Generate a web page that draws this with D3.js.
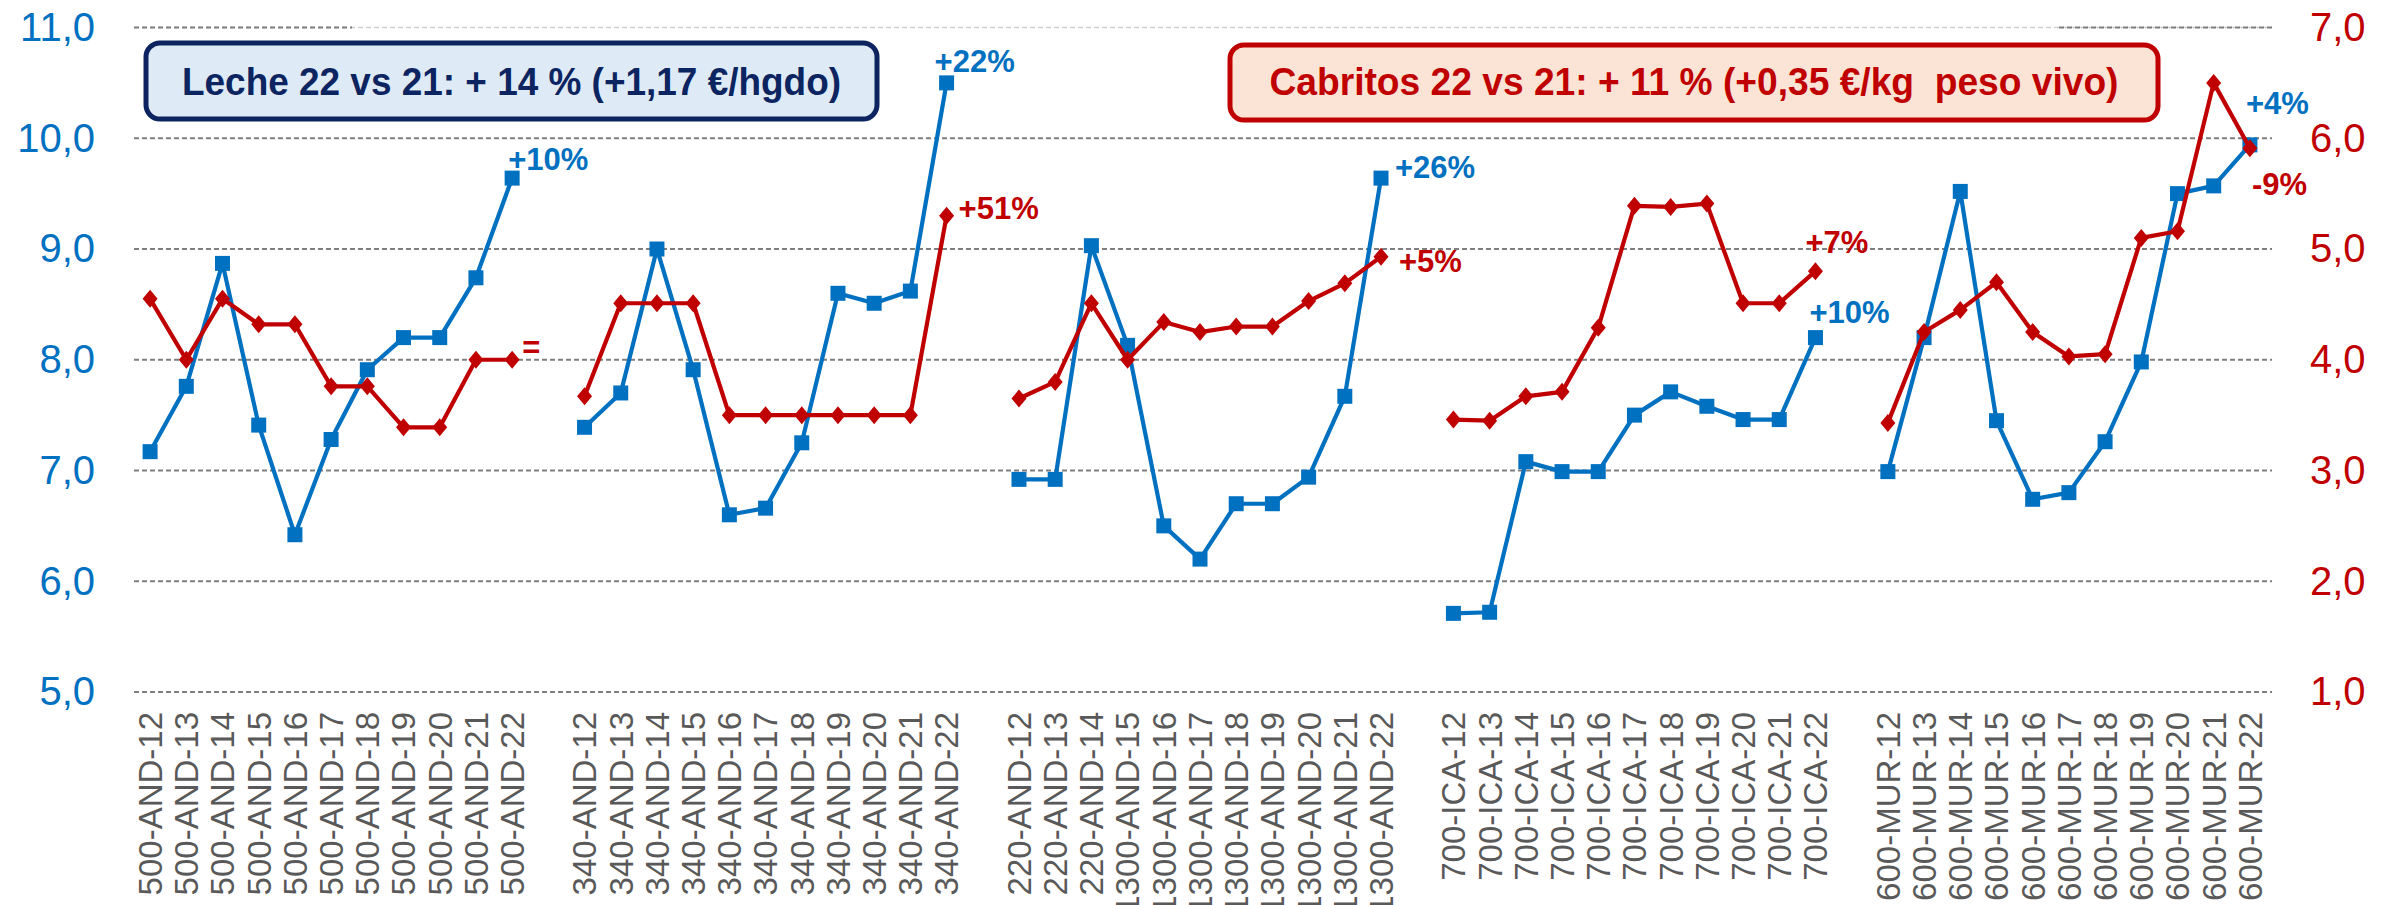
<!DOCTYPE html>
<html lang="es">
<head>
<meta charset="UTF-8">
<title>Leche y cabritos 2012-2022</title>
<script src="https://d3js.org/d3.v7.min.js"></script>
<style>
  body { margin: 0; background: #fff; }
  svg { display: block; font-family: "Liberation Sans", Arial, sans-serif; }
  .grid line { stroke: #7f7f7f; stroke-width: 2; stroke-dasharray: 5,3; }
  .grid line.top { stroke: #cfcfcf; stroke-width: 1.5; }
  .axis-left text { fill: #0070c0; font-size: 40px; }
  .axis-right text { fill: #c00000; font-size: 40px; }
  .axis-x text { fill: #595959; font-size: 33px; }
  .note { font-weight: bold; font-size: 31px; }
</style>
</head>
<body>
<svg id="chart"></svg>
<script>
// precio medio leche (€/hgdo, eje izq.) y cabritos (€/kg peso vivo, eje dcho.)
const categories = [
  "500-AND-12", "500-AND-13", "500-AND-14", "500-AND-15", "500-AND-16", "500-AND-17", "500-AND-18", "500-AND-19", "500-AND-20", "500-AND-21", "500-AND-22",
  "340-AND-12", "340-AND-13", "340-AND-14", "340-AND-15", "340-AND-16", "340-AND-17", "340-AND-18", "340-AND-19", "340-AND-20", "340-AND-21", "340-AND-22",
  "220-AND-12", "220-AND-13", "220-AND-14", "1300-AND-15", "1300-AND-16", "1300-AND-17", "1300-AND-18", "1300-AND-19", "1300-AND-20", "1300-AND-21", "1300-AND-22",
  "700-ICA-12", "700-ICA-13", "700-ICA-14", "700-ICA-15", "700-ICA-16", "700-ICA-17", "700-ICA-18", "700-ICA-19", "700-ICA-20", "700-ICA-21", "700-ICA-22",
  "600-MUR-12", "600-MUR-13", "600-MUR-14", "600-MUR-15", "600-MUR-16", "600-MUR-17", "600-MUR-18", "600-MUR-19", "600-MUR-20", "600-MUR-21", "600-MUR-22"
];
const groupSize = 11;

const leche = [
  7.17, 7.76, 8.87, 7.41, 6.42, 7.28, 7.91, 8.20, 8.20, 8.74, 9.64,
  7.39, 7.70, 9.00, 7.91, 6.60, 6.66, 7.25, 8.60, 8.51, 8.62, 10.50,
  6.92, 6.92, 9.03, 8.13, 6.50, 6.20, 6.70, 6.70, 6.94, 7.67, 9.64,
  5.71, 5.72, 7.08, 6.99, 6.99, 7.50, 7.71, 7.58, 7.46, 7.46, 8.20,
  6.99, 8.20, 9.52, 7.45, 6.74, 6.80, 7.26, 7.98, 9.50, 9.57, 9.94
];
const cabritos = [
  4.55, 4.00, 4.55, 4.32, 4.32, 3.76, 3.76, 3.39, 3.39, 4.00, 4.00,
  3.67, 4.51, 4.51, 4.51, 3.50, 3.50, 3.50, 3.50, 3.50, 3.50, 5.30,
  3.65, 3.80, 4.51, 4.00, 4.34, 4.25, 4.30, 4.30, 4.53, 4.69, 4.93,
  3.46, 3.45, 3.67, 3.71, 4.29, 5.39, 5.38, 5.41, 4.51, 4.51, 4.80,
  3.43, 4.25, 4.45, 4.70, 4.25, 4.03, 4.05, 5.10, 5.16, 6.50, 5.91
];

const leftTicks = [5, 6, 7, 8, 9, 10, 11];
const rightTicks = [1, 2, 3, 4, 5, 6, 7];

const changeLabels = [
  { cat: "500-AND-22", series: "leche", text: "+10%" },
  { cat: "500-AND-22", series: "cabritos", text: "=" },
  { cat: "340-AND-22", series: "leche", text: "+22%" },
  { cat: "340-AND-22", series: "cabritos", text: "+51%" },
  { cat: "1300-AND-22", series: "leche", text: "+26%" },
  { cat: "1300-AND-22", series: "cabritos", text: "+5%" },
  { cat: "700-ICA-22", series: "cabritos", text: "+7%" },
  { cat: "700-ICA-22", series: "leche", text: "+10%" },
  { cat: "600-MUR-22", series: "leche", text: "+4%" },
  { cat: "600-MUR-22", series: "cabritos", text: "-9%" }
];

const lecheTitle = "Leche 22 vs 21: + 14 % (+1,17 €/hgdo)";
const cabritosTitle = "Cabritos 22 vs 21: + 11 % (+0,35 €/kg  peso vivo)";

const width = 2400, height = 905;
const gridX0 = 134, gridX1 = 2272;
const blue = "#0070c0", red = "#c00000";

const svg = d3.select("#chart").attr("width", width).attr("height", height);

// empty slot between groups
const domain = [];
categories.forEach((c, i) => {
  domain.push(c);
  if ((i + 1) % groupSize === 0 && i < categories.length - 1) domain.push("gap" + i);
});

const x = d3.scaleBand().domain(domain).range([132, 2268]);
const cx = c => x(c) + x.bandwidth() / 2;
const yL = d3.scaleLinear().domain([5, 11]).range([692, 27.5]);
const yR = d3.scaleLinear().domain([1, 7]).range([692, 27.5]);
const fmt = d => d3.format(".1f")(d).replace(".", ",");

// gridlines
const grid = svg.append("g").attr("class", "grid");
grid.selectAll("line.g")
  .data(leftTicks)
  .join("line")
  .attr("class", d => d === 11 ? "top" : "g")
  .attr("x1", gridX0).attr("x2", gridX1)
  .attr("y1", d => yL(d)).attr("y2", d => yL(d));
// darker pieces of the top line at both ends
grid.selectAll("line.end")
  .data([[gridX0, 352], [2059, gridX1]])
  .join("line")
  .attr("class", "end")
  .attr("x1", d => d[0]).attr("x2", d => d[1])
  .attr("y1", yL(11)).attr("y2", yL(11));

// axes
svg.append("g").attr("class", "axis-left")
  .attr("transform", `translate(${gridX0},0)`)
  .call(d3.axisLeft(yL).tickValues(leftTicks).tickSize(0).tickPadding(39).tickFormat(fmt))
  .call(g => g.select(".domain").remove())
  .selectAll("text").attr("font-family", null).attr("font-size", null);

svg.append("g").attr("class", "axis-right")
  .attr("transform", `translate(${gridX1},0)`)
  .call(d3.axisRight(yR).tickValues(rightTicks).tickSize(0).tickPadding(38).tickFormat(fmt))
  .call(g => g.select(".domain").remove())
  .selectAll("text").attr("font-family", null).attr("font-size", null);

svg.append("g").attr("class", "axis-x")
  .attr("transform", `translate(0,${yL(5)})`)
  .call(d3.axisBottom(x).tickValues(categories).tickSize(0))
  .call(g => g.select(".domain").remove())
  .selectAll("text")
  .attr("font-family", null).attr("font-size", null)
  .attr("transform", "rotate(-90)")
  .attr("text-anchor", "end")
  .attr("x", -20).attr("y", 0).attr("dy", "0.36em");

// series, one path per group
const groups = d3.range(categories.length / groupSize).map(g => d3.range(g * groupSize, (g + 1) * groupSize));

function drawSeries(values, scale, colour, marker) {
  const line = d3.line().x(i => cx(categories[i])).y(i => scale(values[i]));
  const g = svg.append("g");
  g.selectAll("path.s")
    .data(groups)
    .join("path")
    .attr("class", "s")
    .attr("d", line)
    .attr("fill", "none")
    .attr("stroke", colour)
    .attr("stroke-width", 4.2)
    .attr("stroke-linejoin", "round");
  g.selectAll("path.m")
    .data(d3.range(categories.length))
    .join("path")
    .attr("class", "m")
    .attr("transform", i => `translate(${cx(categories[i])},${scale(values[i])})`)
    .attr("d", marker)
    .attr("fill", colour);
}

drawSeries(leche, yL, blue, "M-7.5,-7.5H7.5V7.5H-7.5Z");
drawSeries(cabritos, yR, red, "M0,-9L7.5,0L0,9L-7.5,0Z");

// change labels
const offsets = [[-4, -8], [10, -2], [-12, -11], [12, 3], [14, 0], [18, 15], [-10, -18], [-6, -15], [-4, -31], [2, 47]];
svg.selectAll("text.note")
  .data(changeLabels)
  .join("text")
  .attr("class", "note")
  .attr("x", (d, i) => cx(d.cat) + offsets[i][0])
  .attr("y", (d, i) => {
    const k = categories.indexOf(d.cat);
    const v = d.series === "leche" ? yL(leche[k]) : yR(cabritos[k]);
    return v + offsets[i][1];
  })
  .attr("fill", d => d.series === "leche" ? blue : red)
  .attr("font-size", d => d.text === "=" ? 42 : null)
  .text(d => d.text);

// boxes
function box(x0, x1, y0, y1, fill, stroke, textColour, label, textWidth) {
  svg.append("rect")
    .attr("x", x0).attr("y", y0)
    .attr("width", x1 - x0).attr("height", y1 - y0)
    .attr("rx", 14)
    .attr("fill", fill).attr("stroke", stroke).attr("stroke-width", 5);
  svg.append("text")
    .attr("x", (x0 + x1) / 2).attr("y", 95)
    .attr("text-anchor", "middle")
    .attr("font-size", 39).attr("font-weight", "bold")
    .attr("textLength", textWidth).attr("lengthAdjust", "spacingAndGlyphs")
    .style("white-space", "pre")
    .attr("fill", textColour)
    .text(label);
}
box(146, 877, 43, 119, "#deebf7", "#0c2460", "#0c2460", lecheTitle, 659);
box(1230, 2158, 45, 120, "#fbe4d5", red, red, cabritosTitle, 849);
</script>
</body>
</html>
